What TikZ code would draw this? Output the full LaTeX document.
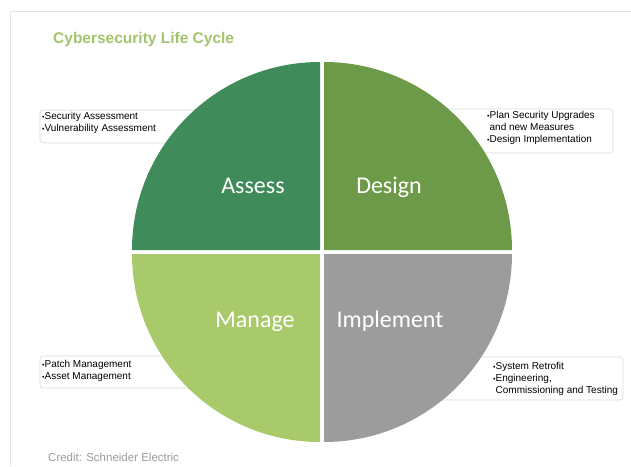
\documentclass[tikz,border=0pt]{standalone}
\usepackage{fontspec}
\setmainfont{Liberation Sans}
\newfontfamily\calibri{Carlito}
\usetikzlibrary{calc,positioning}
\definecolor{assessgreen}{HTML}{3F8C5A}
\definecolor{designgreen}{HTML}{6D9A48}
\definecolor{managegreen}{HTML}{A8CA6A}
\definecolor{implementgray}{HTML}{9C9C9C}
\definecolor{titlegreen}{HTML}{A4C46C}
\definecolor{creditgray}{HTML}{9A9A9A}

\begin{document}
\begin{tikzpicture}[x=1pt,y=-1pt]
    \newcommand*{\radius}{188}
    \newcommand*{\bul}{{\scriptsize\textbullet}}
    \tikzstyle{info box}=[draw=black!15, fill=white, rounded corners=3pt, line width=0.6pt];
    \tikzstyle{item text}=[anchor=north west, align=left, inner sep=0pt, font=\fontsize{10}{12}\selectfont];
    \tikzstyle{phase label}=[anchor=base, text=white, inner sep=0pt, font=\calibri\fontsize{24}{28}\selectfont];

    \useasboundingbox (0,0) rectangle (631,466);
    \draw[black!10] (10,466) -- (10,11) -- (631,11);

    \node[anchor=base west, inner sep=0pt, text=titlegreen, font=\bfseries\fontsize{15.5}{18}\selectfont] (title) at (53,43.5) {Cybersecurity Life Cycle};

    % boxes sit behind the circle
    \draw[info box] (40,110) rectangle (210,143);
    \draw[info box] (430,109) rectangle (613,153);
    \draw[info box] (40,356) rectangle (210,388);
    \draw[info box] (430,357) rectangle (623,400);

    \node[item text] (assessitems) at (42,112) {\bul Security Assessment\\\bul Vulnerability Assessment};
    \node[item text] (designitems) at (487,111) {\bul Plan Security Upgrades\\\phantom{\bul}and new Measures\\\bul Design Implementation};
    \node[item text] (manageitems) at (42,360) {\bul Patch Management\\\bul Asset Management};
    \node[item text] (implementitems) at (493,362) {\bul System Retrofit\\\bul Engineering,\\\phantom{\bul}Commissioning and Testing};

    \foreach \cx / \cy / \sa / \ea / \col in {320/250/180/270/assessgreen, 324/250/270/360/designgreen, 320/254/180/90/managegreen, 324/254/0/90/implementgray} {
      \fill[\col] (\cx,\cy) -- +(\sa:\radius) arc[start angle=\sa, end angle=\ea, radius=\radius] -- cycle;
    }

    \node[phase label] (assess) at (253,193) {Assess};
    \node[phase label] (design) at (389,193) {Design};
    \node[phase label] (manage) at (255,327) {Manage};
    \node[phase label] (implement) at (390,327) {Implement};

    \node[anchor=base west, inner sep=0pt, text=creditgray, font=\fontsize{11.5}{14}\selectfont] (credit) at (48,461) {Credit: Schneider Electric};
\end{tikzpicture}
\end{document}
